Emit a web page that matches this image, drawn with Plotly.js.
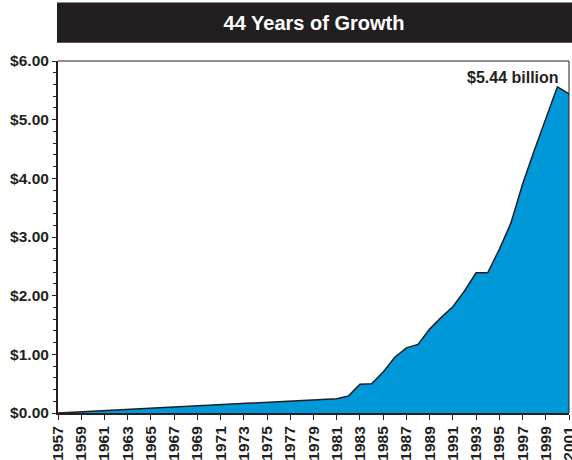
<!DOCTYPE html>
<html>
<head>
<meta charset="utf-8">
<script src="https://cdn.plot.ly/plotly-3.0.1.min.js"></script>
<style>html,body{margin:0;padding:0;background:#fff;}#chart{width:572px;height:460px;}</style>
</head>
<body>
<div id="chart"></div>
<script>
const years = [1957,1958,1959,1960,1961,1962,1963,1964,1965,1966,1967,1968,1969,1970,1971,1972,1973,1974,1975,1976,1977,1978,1979,1980,1981,1982,1983,1984,1985,1986,1987,1988,1989,1990,1991,1992,1993,1994,1995,1996,1997,1998,1999,2000,2001];
const revenue = [0.00,0.01,0.02,0.035,0.045,0.055,0.065,0.075,0.085,0.095,0.105,0.115,0.125,0.135,0.145,0.155,0.165,0.175,0.185,0.195,0.205,0.215,0.225,0.235,0.245,0.29,0.49,0.50,0.70,0.95,1.11,1.17,1.43,1.63,1.81,2.08,2.39,2.39,2.79,3.24,3.90,4.47,5.03,5.56,5.44];
const tickYears = [];
for (let y = 1957; y <= 2001; y += 2) tickYears.push(y);
const chartTitle = "44 Years of Growth";
const finalLabel = "$5.44 billion";

const ink = "#231f20";
const fam = "Liberation Sans, Arial, sans-serif";

const trace = {
  x: years, y: revenue, type: "scatter", mode: "lines",
  fill: "tozeroy", fillcolor: "#0098d8",
  line: {color: ink, width: 1.5},
  hoverinfo: "skip"
};

const layout = {
  width: 572, height: 460,
  margin: {l: 58, r: 3, t: 61, b: 47, pad: 0},
  paper_bgcolor: "#fff", plot_bgcolor: "#fff",
  showlegend: false,
  font: {family: fam, size: 15, color: ink},
  title: {
    text: "<b>" + chartTitle + "</b>",
    font: {family: fam, size: 20, color: "#fff"},
    x: 0.549, xanchor: "center", xref: "container",
    y: 0.951, yanchor: "middle", yref: "container"
  },
  xaxis: {
    range: [1957, 2001], tickmode: "array", tickvals: tickYears, ticktext: tickYears.map(String),
    tickangle: -90, ticks: "outside", ticklen: 5, tickwidth: 1, tickcolor: ink,
    ticklabeloverflow: "allow",
    showline: true, linecolor: ink, linewidth: 2, showgrid: false, zeroline: false,
    tickfont: {family: fam, size: 15.5, color: ink, weight: "bold"},
    fixedrange: true
  },
  yaxis: {
    range: [0, 6], dtick: 1, tick0: 0, tickprefix: "$", tickformat: ".2f",
    ticks: "outside", ticklen: 4, tickwidth: 1, tickcolor: ink,
    minor: {dtick: 0.2, ticks: "outside", ticklen: 3, tickwidth: 1, tickcolor: ink, showgrid: false},
    showline: true, linecolor: ink, linewidth: 2, showgrid: false, zeroline: false,
    tickfont: {family: fam, size: 15.5, color: ink, weight: "bold"},
    fixedrange: true
  },
  shapes: [
    {type: "rect", xref: "paper", yref: "paper", x0: -0.002, x1: 1.01, y0: 1.052, y1: 1.166,
     fillcolor: ink, line: {width: 0}, layer: "below"},
    {type: "line", xref: "paper", yref: "paper", x0: 0, x1: 1, y0: 1, y1: 1, line: {color: ink, width: 1}},
    {type: "line", xref: "paper", yref: "paper", x0: 1, x1: 1, y0: 0, y1: 1, line: {color: ink, width: 1}}
  ],
  annotations: [
    {text: "<b>" + finalLabel + "</b>", xref: "paper", yref: "y", x: 0.983, y: 5.72,
     xanchor: "right", yanchor: "middle", showarrow: false, borderpad: 0,
     font: {family: fam, size: 16, color: ink}}
  ]
};

Plotly.newPlot("chart", [trace], layout, {displayModeBar: false, staticPlot: true});
</script>
</body>
</html>
